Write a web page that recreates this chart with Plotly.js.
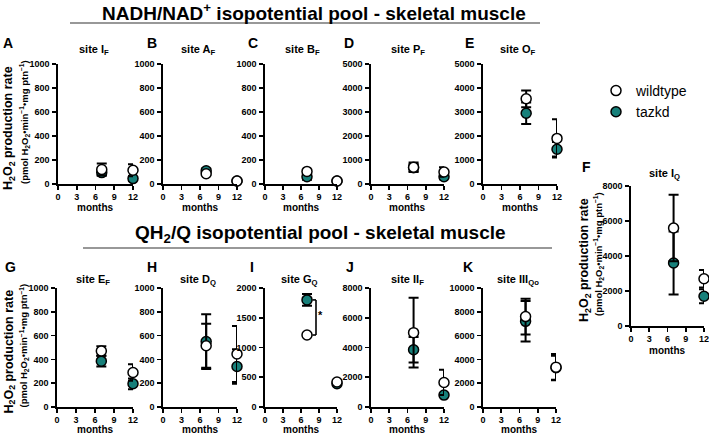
<!DOCTYPE html>
<html><head><meta charset="utf-8">
<script src="https://cdn.plot.ly/plotly-3.0.1.min.js"></script>
<style>html,body{margin:0;padding:0;background:#fff}#chart{width:709px;height:434px}</style>
</head><body><div id="chart"></div>
<script>
// ---- data ----
const months = [7, 12];
const panelIds = ['A','B','C','D','E','F','G','H','I','J','K'];
const panelTitles = ['site I<sub>F</sub>','site A<sub>F</sub>','site B<sub>F</sub>','site P<sub>F</sub>','site O<sub>F</sub>','site I<sub>Q</sub>','site E<sub>F</sub>','site D<sub>Q</sub>','site G<sub>Q</sub>','site II<sub>F</sub>','site III<sub>Qo</sub>'];
const yMax  = [1000,1000,1000,5000,5000,8000,1000,1000,2000,8000,10000];
const yStep = [200,200,200,1000,1000,2000,200,200,500,2000,2000];
const xTicks = [0,3,6,9,12];

const wtMean = {A:[120,115],B:[85,25],C:[105,25],D:[700,500],E:[3550,1900],F:[5600,2700],G:[470,290],H:[515,445],I:[1210,420],J:[5000,1650],K:[7600,3350]};
const wtErr  = {A:[50,50],B:[10,5],C:[10,5],D:[200,200],E:[350,800],F:[1900,500],G:[40,70],H:[185,235],I:[20,20],J:[2350,850],K:[1500,1100]};
const tzMean = {A:[95,45],B:[110,25],C:[60,25],D:[680,300],E:[2950,1450],F:[3600,1700],G:[385,195],H:[550,340],I:[1800,390],J:[3850,800],K:[7200,3300]};
const tzErr  = {A:[25,20],B:[20,5],C:[25,5],D:[150,100],E:[450,300],F:[1800,400],G:[45,45],H:[230,145],I:[100,20],J:[850,100],K:[1700,1000]};

// ---- layout geometry (pixels) ----
const W = 709, H = 434;
const px = x => x / W, py = y => 1 - y / H;
const boxes = { // [left, right, top, bottom]
  A:[58,133,64,184], B:[163,237,64,184], C:[265,337,64,184], D:[371,444,64,184], E:[483,557,64,184],
  F:[631,704,186,326],
  G:[57,133,288,407], H:[163,237,288,407], I:[265,337,288,407], J:[371,444,288,407], K:[483,556,288,407]
};
const letterPos = {A:[8,43],B:[152,43],C:[253,43],D:[349,43],E:[469,43],F:[586,167],G:[10,267],H:[152,267],I:[252,267],J:[350,267],K:[468,267]};
const titlePos = {A:[94,50],B:[198,50],C:[302,50],D:[408,50],E:[518,50],F:[664,174],G:[93,280],H:[198,280],I:[299,280],J:[407,280],K:[518,280]};

const TEAL = '#17807a';
const FONT = 'Liberation Sans, Arial, Helvetica, sans-serif';

const data = [];
const layout = {
  width: W, height: H, margin:{l:0,r:0,t:0,b:0},
  paper_bgcolor:'#fff', plot_bgcolor:'rgba(0,0,0,0)',
  font:{family:FONT, color:'#000'},
  showlegend:true,
  legend:{x:px(596), y:py(75), xanchor:'left', yanchor:'top', font:{family:FONT,size:14,color:'#000'}, bgcolor:'rgba(0,0,0,0)', tracegroupgap:0, itemwidth:30},
  annotations:[], shapes:[]
};

panelIds.forEach((id, i) => {
  const n = i + 1;
  const xa = n === 1 ? 'x' : 'x' + n, ya = n === 1 ? 'y' : 'y' + n;
  const b = boxes[id];
  const axCommon = {showline:true, linecolor:'#000', linewidth:1.6, ticks:'outside', ticklen:4, tickwidth:1.6, tickcolor:'#000',
    showgrid:false, zeroline:false, fixedrange:true, ticklabeloverflow:'allow', tickformat:'d',
    tickfont:{family:FONT, size:9, weight:'bold', color:'#000'}};
  layout['xaxis' + (n===1?'':n)] = Object.assign({}, axCommon, {domain:[px(b[0]), px(b[1])], anchor:ya, range:[0,12], tickvals:xTicks, ticktext:xTicks.map(String), ticklabelstandoff:0});
  layout['yaxis' + (n===1?'':n)] = Object.assign({}, axCommon, {domain:[py(b[3]), py(b[2])], anchor:xa, range:[0,yMax[i]], dtick:yStep[i], tick0:0, ticklabelstandoff:1});

  data.push({type:'scatter', mode:'markers', name:'tazkd', legendgroup:'tz', legendrank:2, showlegend:i===0, x:months, y:tzMean[id], xaxis:xa, yaxis:ya, cliponaxis:false,
    marker:{size:10, color:TEAL, line:{color:'#000', width:1.5}},
    error_y:{type:'data', array:tzErr[id], visible:true, color:'#000', thickness:2, width:5}});
  data.push({type:'scatter', mode:'markers', name:'wildtype', legendgroup:'wt', legendrank:1, showlegend:i===0, x:months, y:wtMean[id], xaxis:xa, yaxis:ya, cliponaxis:false,
    marker:{size:10, color:'#fff', line:{color:'#000', width:1.5}},
    error_y:{type:'data', array:wtErr[id], visible:true, color:'#000', thickness:2, width:5}});

  layout.annotations.push({xref:'paper', yref:'paper', x:px(letterPos[id][0]), y:py(letterPos[id][1]), text:id, showarrow:false, xanchor:'center', yanchor:'middle', font:{family:FONT, size:14, weight:'bold'}});
  layout.annotations.push({xref:'paper', yref:'paper', x:px(titlePos[id][0]), y:py(titlePos[id][1]), text:panelTitles[i], showarrow:false, xanchor:'center', yanchor:'middle', font:{family:FONT, size:11, weight:'bold'}});
  const monthsY = id === 'F' ? 350 : Math.min(b[3] + 24, 429);
  layout.annotations.push({xref:'paper', yref:'paper', x:px((b[0]+b[1])/2), y:py(monthsY), text:'months', showarrow:false, xanchor:'center', yanchor:'middle', borderpad:0, font:{family:FONT, size:10, weight:'bold'}});
});

// y-axis titles for A, G, F
const yTitleMain = 'H<sub>2</sub>O<sub>2</sub> production rate';
const yTitleSub = '(pmol H<sub>2</sub>O<sub>2</sub>•min<sup>−1</sup>•mg ptn<sup>−1</sup>)';
[['A',9,24],['G',9,24],['F',585,598]].forEach(([id, xm, xs]) => {
  const b = boxes[id], cy = (b[2]+b[3])/2 + 4;
  layout.annotations.push({xref:'paper', yref:'paper', x:px(xm), y:py(cy), text:yTitleMain, textangle:-90, showarrow:false, xanchor:'center', yanchor:'middle', font:{family:FONT, size:12.5, weight:'bold'}});
  layout.annotations.push({xref:'paper', yref:'paper', x:px(xs), y:py(cy - 6), text:yTitleSub, textangle:-90, showarrow:false, xanchor:'center', yanchor:'middle', font:{family:FONT, size:9.5, weight:'bold'}});
});

// section headings and underlines
layout.annotations.push({xref:'paper', yref:'paper', x:px(314), y:py(12), text:'NADH/NAD<sup>+</sup> isopotential pool - skeletal muscle', showarrow:false, xanchor:'center', yanchor:'middle', font:{family:FONT, size:19, weight:'bold'}});
layout.annotations.push({xref:'paper', yref:'paper', x:px(320), y:py(234), text:'QH<sub>2</sub>/Q isopotential pool - skeletal muscle', showarrow:false, xanchor:'center', yanchor:'middle', font:{family:FONT, size:19, weight:'bold'}});
layout.shapes.push({type:'line', xref:'paper', yref:'paper', x0:px(70), x1:px(540), y0:py(23), y1:py(23), line:{color:'#333', width:1.2}});
layout.shapes.push({type:'line', xref:'paper', yref:'paper', x0:px(83), x1:px(552), y0:py(248), y1:py(248), line:{color:'#333', width:1.2}});

// significance bracket on panel I (7 months)
const bx0 = 7.9, bx1 = 8.5;
[[bx0,bx1,tzMean.I[0],tzMean.I[0]],[bx1,bx1,tzMean.I[0],wtMean.I[0]],[bx0,bx1,wtMean.I[0],wtMean.I[0]]].forEach(s => {
  layout.shapes.push({type:'line', xref:'x9', yref:'y9', x0:s[0], x1:s[1], y0:s[2], y1:s[3], line:{color:'#000', width:1.6}});
});
layout.annotations.push({xref:'x9', yref:'y9', x:9.2, y:(tzMean.I[0]+wtMean.I[0])/2 + 40, text:'*', showarrow:false, font:{family:FONT, size:11, weight:'bold'}});

Plotly.newPlot('chart', data, layout, {staticPlot:true, displayModeBar:false});
</script></body></html>
